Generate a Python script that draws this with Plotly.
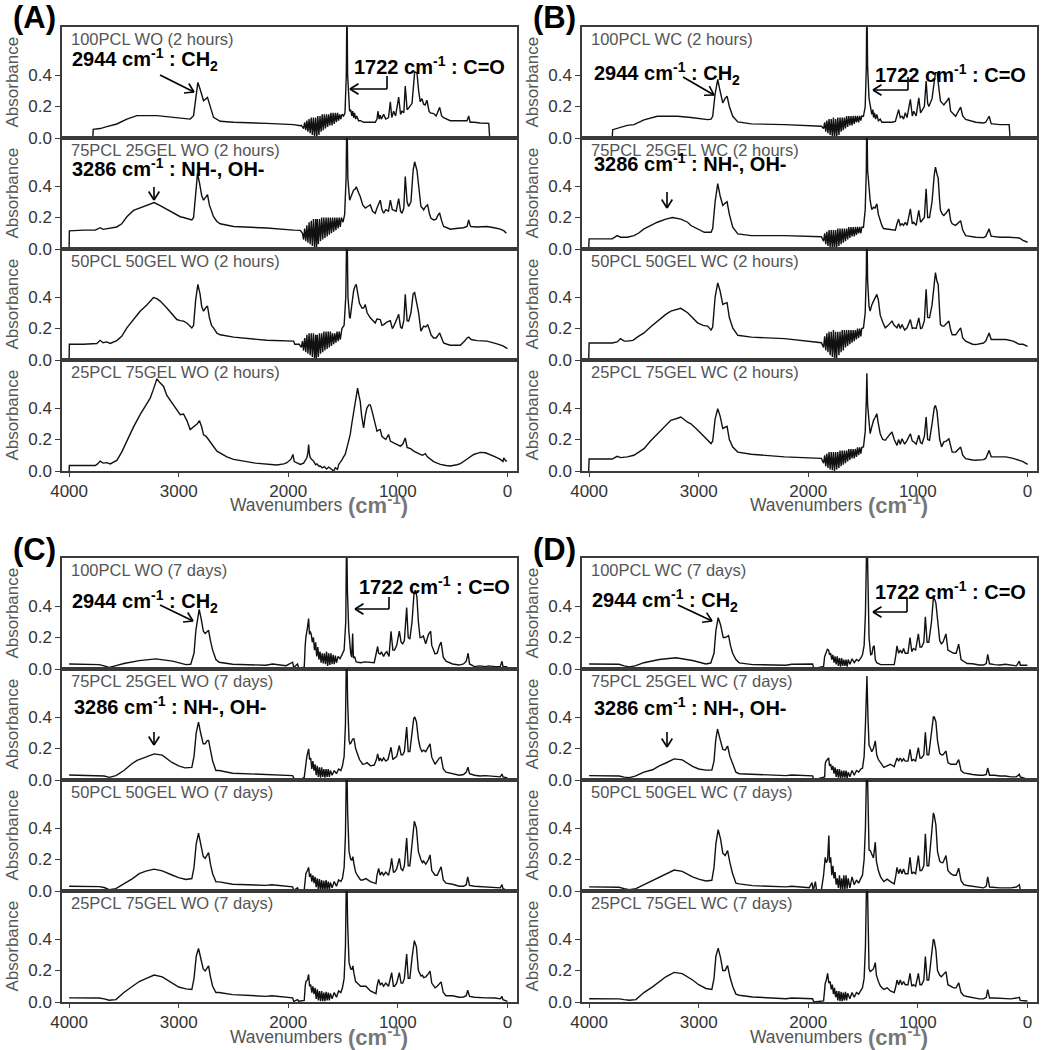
import math
import plotly.graph_objects as go

W, H = 1042, 1050

# ---------------- data: (wavenumber, absorbance) ----------------
A1 = [(4000,0),(3784,0),(3780,0.055),(3717,0.06),(3656,0.072),(3565,0.089),(3473,0.12),(3382,0.142),
      (3199,0.142),(3047,0.131),(2895,0.12),(2864,0.142),(2843,0.258),(2825,0.353),(2804,0.31),(2773,0.237),
      (2737,0.258),(2712,0.195),(2682,0.131),(2621,0.106),(2499,0.1),(2195,0.093),(1951,0.085),(1890,0.078),
      (1880,0.08),(1860,0.06),(1850,0.1),(1840,0.05),(1830,0.11),(1820,0.04),(1810,0.12),(1800,0.03),(1790,0.13),
      (1780,0.02),(1770,0.13),(1760,0.01),(1750,0.13),(1740,0.0),(1730,0.14),(1720,0.02),(1710,0.14),(1700,0.04),
      (1690,0.15),(1680,0.05),(1670,0.15),(1660,0.06),(1650,0.15),(1640,0.07),(1630,0.15),(1620,0.08),(1610,0.16),
      (1600,0.08),(1590,0.16),(1580,0.09),(1570,0.16),(1560,0.1),(1550,0.16),(1540,0.11),(1530,0.15),(1520,0.12),
      (1510,0.15),(1495,0.14),(1482,0.16),(1470,0.4),(1464,0.9),(1458,0.4),(1445,0.2),(1440,0.17),(1430,0.18),
      (1420,0.14),(1412,0.17),(1403,0.13),(1395,0.16),(1385,0.12),(1375,0.14),(1358,0.11),(1340,0.11),(1312,0.1),
      (1282,0.1),(1206,0.1),(1190,0.12),(1181,0.17),(1170,0.12),(1160,0.145),(1150,0.12),(1129,0.15),(1110,0.12),
      (1085,0.13),(1068,0.23),(1055,0.13),(1038,0.17),(1020,0.14),(992,0.26),(975,0.15),(962,0.17),(945,0.16),
      (932,0.33),(915,0.18),(901,0.19),(870,0.22),(846,0.42),(825,0.415),(810,0.3),(795,0.23),(780,0.25),
      (764,0.215),(750,0.21),(734,0.24),(715,0.17),(703,0.16),(673,0.155),(650,0.14),(618,0.195),(600,0.14),
      (582,0.13),(521,0.11),(429,0.11),(368,0.11),(353,0.14),(340,0.1),(300,0.1),(250,0.095),(170,0.093),
      (161,0.0),(100,0.0),(-3,0.0)]

A2 = [(4000,0),(3998,0.115),(3869,0.12),(3762,0.12),(3747,0.125),(3717,0.135),(3690,0.125),(3656,0.13),
      (3625,0.13),(3565,0.14),(3520,0.16),(3473,0.205),(3412,0.245),(3352,0.26),(3291,0.275),(3224,0.295),
      (3169,0.275),(3108,0.25),(3047,0.225),(2986,0.205),(2956,0.2),(2925,0.195),(2880,0.185),(2864,0.2),
      (2845,0.35),(2828,0.48),(2810,0.42),(2790,0.34),(2773,0.31),(2755,0.33),(2737,0.345),(2720,0.28),
      (2700,0.24),(2682,0.205),(2651,0.175),(2621,0.16),(2499,0.143),(2195,0.133),(1950,0.12),(1890,0.118),
      (1870,0.1),(1860,0.06),(1850,0.13),(1840,0.05),(1830,0.15),(1820,0.04),(1810,0.17),(1800,0.03),(1790,0.18),
      (1780,0.02),(1770,0.19),(1760,0.01),(1750,0.19),(1742,0.0),(1735,0.19),(1725,0.03),(1715,0.19),(1705,0.05),
      (1695,0.2),(1685,0.06),(1675,0.2),(1665,0.07),(1655,0.2),(1645,0.08),(1635,0.2),(1625,0.09),(1615,0.2),
      (1605,0.1),(1595,0.2),(1585,0.11),(1575,0.2),(1565,0.12),(1555,0.2),(1545,0.13),(1535,0.2),(1525,0.14),
      (1515,0.2),(1500,0.17),(1485,0.22),(1472,0.45),(1464,0.9),(1456,0.45),(1440,0.31),(1420,0.35),(1403,0.375),
      (1390,0.38),(1379,0.395),(1360,0.36),(1343,0.333),(1320,0.28),(1297,0.26),(1275,0.27),(1251,0.28),
      (1230,0.24),(1206,0.227),(1190,0.26),(1175,0.28),(1160,0.31),(1145,0.25),(1129,0.227),(1110,0.25),
      (1085,0.24),(1068,0.31),(1050,0.25),(1038,0.247),(1015,0.24),(992,0.32),(975,0.24),(962,0.227),(945,0.26),
      (932,0.46),(915,0.3),(901,0.27),(880,0.3),(860,0.5),(846,0.554),(825,0.5),(810,0.4),(795,0.3),(789,0.27),
      (775,0.26),(764,0.248),(745,0.27),(728,0.28),(710,0.22),(697,0.195),(673,0.185),(650,0.19),(630,0.22),
      (618,0.227),(600,0.18),(582,0.143),(550,0.135),(521,0.126),(470,0.13),(400,0.135),(368,0.143),(353,0.185),
      (340,0.15),(332,0.143),(280,0.14),(186,0.143),(120,0.135),(64,0.126),(30,0.115),(9,0.1)]

A3 = [(4000,0),(3998,0.1),(3869,0.1),(3747,0.105),(3717,0.125),(3690,0.11),(3656,0.115),(3625,0.105),
      (3565,0.123),(3520,0.15),(3473,0.204),(3412,0.26),(3352,0.31),(3291,0.35),(3230,0.396),(3199,0.39),
      (3169,0.374),(3108,0.33),(3047,0.28),(3017,0.257),(2986,0.25),(2956,0.247),(2925,0.235),(2880,0.204),
      (2864,0.22),(2845,0.38),(2825,0.48),(2805,0.42),(2790,0.34),(2773,0.31),(2755,0.33),(2737,0.343),
      (2720,0.27),(2700,0.22),(2682,0.204),(2651,0.17),(2621,0.16),(2499,0.145),(2195,0.125),(1951,0.12),
      (1940,0.1),(1900,0.1),(1880,0.08),(1870,0.12),(1860,0.06),(1850,0.14),(1840,0.05),(1830,0.16),(1820,0.04),
      (1810,0.17),(1800,0.03),(1790,0.17),(1780,0.02),(1770,0.17),(1760,0.01),(1750,0.16),(1744,0.0),(1735,0.16),
      (1725,0.02),(1715,0.17),(1705,0.04),(1695,0.17),(1685,0.05),(1675,0.18),(1665,0.06),(1655,0.18),(1645,0.07),
      (1635,0.18),(1625,0.08),(1615,0.18),(1605,0.09),(1595,0.17),(1585,0.1),(1575,0.17),(1565,0.11),(1555,0.18),
      (1545,0.12),(1535,0.18),(1525,0.13),(1510,0.2),(1490,0.22),(1475,0.4),(1464,0.9),(1455,0.4),(1440,0.27),
      (1434,0.268),(1418,0.36),(1403,0.44),(1390,0.47),(1379,0.48),(1367,0.43),(1350,0.36),(1327,0.33),
      (1312,0.33),(1297,0.353),(1280,0.3),(1251,0.268),(1230,0.25),(1206,0.235),(1190,0.26),(1160,0.257),
      (1145,0.22),(1129,0.225),(1100,0.24),(1084,0.247),(1068,0.25),(1050,0.2),(1038,0.213),(1015,0.25),
      (992,0.29),(975,0.21),(962,0.2),(945,0.25),(932,0.417),(915,0.25),(901,0.247),(880,0.3),(860,0.42),
      (846,0.428),(830,0.38),(810,0.3),(789,0.183),(775,0.2),(764,0.215),(745,0.21),(728,0.225),(710,0.19),
      (697,0.16),(673,0.14),(650,0.14),(630,0.16),(618,0.172),(600,0.14),(582,0.108),(550,0.1),(521,0.094),
      (460,0.094),(429,0.094),(390,0.12),(368,0.14),(353,0.145),(330,0.13),(277,0.123),(186,0.12),(94,0.102),
      (40,0.09),(-1,0.072)]

A4 = [(4000,0),(3998,0.035),(3869,0.035),(3762,0.035),(3740,0.045),(3717,0.063),(3690,0.05),(3656,0.053),
      (3625,0.045),(3565,0.067),(3520,0.12),(3473,0.19),(3412,0.28),(3352,0.358),(3300,0.42),(3260,0.463),
      (3230,0.52),(3199,0.585),(3170,0.56),(3138,0.537),(3108,0.48),(3047,0.42),(3000,0.37),(2986,0.358),
      (2956,0.362),(2925,0.32),(2895,0.263),(2864,0.28),(2830,0.3),(2810,0.32),(2790,0.28),(2773,0.23),
      (2750,0.22),(2728,0.2),(2700,0.17),(2651,0.126),(2560,0.09),(2499,0.074),(2300,0.05),(2195,0.042),
      (2104,0.038),(2040,0.045),(2012,0.053),(1975,0.075),(1957,0.105),(1945,0.06),(1900,0.045),(1890,0.042),
      (1860,0.05),(1830,0.084),(1820,0.12),(1814,0.168),(1805,0.1),(1799,0.084),(1780,0.07),(1769,0.063),
      (1750,0.04),(1738,0.045),(1720,0.03),(1708,0.032),(1690,0.02),(1670,0.028),(1650,0.012),(1630,0.025),
      (1616,0.017),(1600,0.005),(1586,0.0),(1570,0.02),(1550,0.01),(1540,0.04),(1525,0.053),(1510,0.07),
      (1495,0.09),(1480,0.105),(1460,0.16),(1434,0.232),(1420,0.3),(1403,0.379),(1385,0.47),(1367,0.526),
      (1355,0.48),(1343,0.442),(1330,0.35),(1312,0.274),(1297,0.35),(1282,0.4),(1265,0.42),(1251,0.42),
      (1235,0.38),(1221,0.337),(1205,0.29),(1190,0.253),(1175,0.26),(1160,0.263),(1145,0.22),(1129,0.21),
      (1110,0.2),(1084,0.232),(1068,0.19),(1038,0.179),(1010,0.17),(977,0.158),(955,0.17),(932,0.21),
      (915,0.15),(901,0.147),(880,0.14),(855,0.126),(830,0.115),(795,0.105),(775,0.1),(749,0.11),(730,0.09),
      (703,0.074),(673,0.06),(640,0.05),(612,0.042),(560,0.035),(521,0.032),(460,0.04),(429,0.047),(380,0.07),
      (340,0.09),(307,0.105),(277,0.112),(247,0.118),(200,0.116),(155,0.105),(110,0.09),(64,0.074),(40,0.06),
      (33,0.084),(15,0.065),(3,0.063)]

B1 = [(4004,0),(3789,0),(3785,0.053),(3744,0.06),(3700,0.07),(3652,0.08),(3591,0.085),(3499,0.115),
      (3377,0.138),(3254,0.138),(3193,0.138),(3071,0.13),(2948,0.12),(2918,0.117),(2887,0.12),(2872,0.138),
      (2850,0.28),(2826,0.372),(2805,0.3),(2780,0.223),(2760,0.25),(2741,0.266),(2720,0.2),(2689,0.138),
      (2643,0.102),(2520,0.09),(2215,0.085),(1970,0.081),(1880,0.075),
      (1860,0.06),(1850,0.1),(1840,0.04),(1830,0.11),(1820,0.03),(1810,0.12),(1800,0.02),(1790,0.12),(1780,0.01),
      (1770,0.13),(1760,0.0),(1750,0.12),(1740,0.01),(1730,0.13),(1720,0.02),(1710,0.13),(1700,0.04),(1690,0.13),
      (1680,0.05),(1670,0.13),(1660,0.06),(1650,0.14),(1640,0.07),(1630,0.14),(1620,0.08),(1610,0.14),(1600,0.08),
      (1590,0.14),(1580,0.09),(1570,0.14),(1560,0.1),(1550,0.14),(1540,0.1),(1530,0.14),(1520,0.11),(1511,0.14),
      (1496,0.138),(1480,0.2),(1470,0.45),(1465,0.9),(1458,0.45),(1445,0.25),(1435,0.21),(1420,0.15),(1410,0.18),
      (1404,0.13),(1395,0.16),(1385,0.12),(1374,0.15),(1360,0.11),(1343,0.12),(1328,0.1),(1313,0.1),(1236,0.1),
      (1205,0.105),(1190,0.14),(1175,0.18),(1160,0.13),(1144,0.138),(1130,0.12),(1114,0.16),(1098,0.13),
      (1068,0.245),(1050,0.14),(1037,0.17),(1015,0.14),(991,0.255),(975,0.16),(961,0.18),(940,0.2),(924,0.362),
      (910,0.22),(899,0.2),(870,0.25),(839,0.415),(823,0.415),(805,0.3),(793,0.234),(775,0.22),(762,0.21),
      (740,0.23),(716,0.255),(700,0.17),(686,0.16),(655,0.138),(630,0.17),(609,0.196),(590,0.14),(563,0.118),
      (471,0.1),(400,0.095),(380,0.1),(349,0.138),(330,0.09),(319,0.09),(250,0.085),(166,0.085),(158,0.0),
      (100,0.0),(-2,0.0)]

B2 = [(4004,0),(4000,0.064),(3789,0.064),(3744,0.085),(3713,0.075),(3652,0.075),(3591,0.085),(3550,0.1),
      (3499,0.128),(3440,0.15),(3377,0.17),(3300,0.19),(3239,0.2),(3163,0.19),(3101,0.17),(3071,0.149),
      (3010,0.125),(2948,0.106),(2887,0.106),(2872,0.13),(2850,0.3),(2826,0.415),(2805,0.34),(2780,0.277),
      (2760,0.29),(2741,0.3),(2720,0.22),(2689,0.138),(2643,0.096),(2520,0.085),(2215,0.085),(1970,0.08),
      (1880,0.078),
      (1860,0.05),(1850,0.1),(1840,0.03),(1830,0.11),(1820,0.02),(1810,0.12),(1800,0.01),(1790,0.12),(1780,0.005),
      (1770,0.12),(1760,0.0),(1750,0.12),(1740,0.01),(1730,0.13),(1720,0.02),(1710,0.13),(1700,0.03),(1690,0.13),
      (1680,0.04),(1670,0.13),(1660,0.05),(1650,0.13),(1640,0.06),(1630,0.14),(1620,0.07),(1610,0.14),(1600,0.08),
      (1590,0.14),(1580,0.08),(1570,0.14),(1560,0.09),(1550,0.14),(1540,0.1),(1530,0.14),(1520,0.1),(1511,0.138),
      (1496,0.138),(1480,0.25),(1470,0.5),(1465,0.9),(1458,0.5),(1445,0.35),(1435,0.31),(1420,0.25),(1404,0.266),
      (1390,0.26),(1374,0.287),(1360,0.22),(1343,0.18),(1328,0.15),(1313,0.13),(1297,0.128),(1236,0.12),
      (1205,0.12),(1190,0.16),(1175,0.19),(1160,0.15),(1144,0.16),(1130,0.15),(1114,0.17),(1098,0.15),
      (1068,0.255),(1050,0.16),(1037,0.17),(1015,0.15),(991,0.245),(975,0.17),(961,0.18),(940,0.2),(924,0.383),
      (910,0.2),(893,0.2),(870,0.3),(850,0.47),(839,0.52),(823,0.47),(814,0.45),(800,0.3),(793,0.245),
      (775,0.22),(762,0.213),(740,0.23),(716,0.255),(700,0.18),(686,0.16),(655,0.15),(630,0.17),(609,0.18),
      (590,0.12),(563,0.085),(471,0.075),(400,0.072),(380,0.08),(349,0.128),(330,0.08),(319,0.08),(250,0.075),
      (166,0.075),(74,0.07),(40,0.055),(-2,0.043)]

B3 = [(4004,0),(4000,0.108),(3789,0.108),(3744,0.115),(3713,0.136),(3680,0.12),(3652,0.12),(3600,0.125),
      (3550,0.15),(3499,0.172),(3440,0.21),(3377,0.247),(3300,0.29),(3254,0.31),(3193,0.325),(3163,0.328),
      (3101,0.3),(3010,0.236),(2960,0.22),(2918,0.215),(2887,0.19),(2872,0.21),(2850,0.4),(2826,0.49),
      (2805,0.44),(2780,0.353),(2760,0.36),(2741,0.364),(2720,0.27),(2689,0.204),(2643,0.157),(2520,0.145),
      (2215,0.136),(1970,0.115),(1880,0.11),
      (1860,0.08),(1850,0.15),(1840,0.06),(1830,0.17),(1820,0.05),(1810,0.18),(1800,0.03),(1790,0.18),(1780,0.02),
      (1770,0.19),(1760,0.005),(1750,0.18),(1742,0.0),(1730,0.18),(1720,0.03),(1710,0.18),(1700,0.05),(1690,0.19),
      (1680,0.06),(1670,0.19),(1660,0.08),(1650,0.19),(1640,0.09),(1630,0.19),(1620,0.1),(1610,0.19),(1600,0.11),
      (1590,0.19),(1580,0.12),(1570,0.19),(1560,0.13),(1550,0.2),(1540,0.14),(1530,0.2),(1520,0.15),(1511,0.2),
      (1496,0.204),(1480,0.3),(1470,0.55),(1465,0.9),(1458,0.5),(1445,0.34),(1435,0.31),(1420,0.35),(1404,0.374),
      (1390,0.4),(1374,0.417),(1360,0.38),(1343,0.285),(1320,0.24),(1297,0.204),(1270,0.22),(1236,0.247),
      (1215,0.22),(1190,0.204),(1175,0.23),(1160,0.2),(1144,0.225),(1120,0.19),(1098,0.204),(1068,0.257),
      (1050,0.2),(1037,0.204),(1015,0.2),(991,0.268),(975,0.2),(961,0.204),(940,0.25),(924,0.449),(910,0.27),
      (893,0.268),(870,0.35),(850,0.5),(839,0.555),(825,0.5),(814,0.48),(800,0.3),(793,0.225),(775,0.215),
      (762,0.215),(740,0.23),(716,0.247),(700,0.19),(686,0.16),(655,0.16),(630,0.18),(609,0.204),(590,0.14),
      (563,0.12),(500,0.1),(471,0.098),(400,0.108),(380,0.12),(349,0.172),(330,0.13),(319,0.13),(250,0.13),
      (196,0.13),(130,0.12),(74,0.1),(40,0.1),(-2,0.087)]

B4 = [(4004,0),(4000,0.076),(3789,0.076),(3744,0.093),(3713,0.085),(3652,0.09),(3591,0.1),(3550,0.12),
      (3499,0.142),(3440,0.19),(3377,0.237),(3300,0.29),(3254,0.322),(3193,0.335),(3163,0.343),(3101,0.31),
      (3071,0.3),(3010,0.26),(2948,0.216),(2918,0.2),(2887,0.174),(2872,0.19),(2850,0.33),(2826,0.396),
      (2805,0.35),(2780,0.27),(2760,0.28),(2741,0.284),(2720,0.2),(2689,0.152),(2643,0.12),(2520,0.106),
      (2215,0.09),(1970,0.08),(1880,0.08),
      (1860,0.05),(1850,0.1),(1840,0.03),(1830,0.11),(1820,0.02),(1810,0.12),(1800,0.01),(1790,0.12),(1780,0.005),
      (1770,0.12),(1760,0.0),(1750,0.12),(1740,0.01),(1730,0.12),(1720,0.02),(1710,0.13),(1700,0.03),(1690,0.13),
      (1680,0.04),(1670,0.13),(1660,0.05),(1650,0.13),(1640,0.06),(1630,0.14),(1620,0.07),(1610,0.14),(1600,0.08),
      (1590,0.14),(1580,0.08),(1570,0.14),(1560,0.09),(1550,0.15),(1540,0.1),(1530,0.15),(1520,0.11),(1511,0.15),
      (1496,0.153),(1480,0.25),(1470,0.45),(1465,0.62),(1458,0.42),(1445,0.28),(1435,0.237),(1420,0.28),
      (1404,0.322),(1390,0.34),(1374,0.364),(1360,0.3),(1343,0.237),(1320,0.2),(1297,0.195),(1270,0.22),
      (1236,0.248),(1215,0.2),(1190,0.163),(1175,0.2),(1160,0.17),(1144,0.205),(1120,0.17),(1098,0.195),
      (1068,0.237),(1050,0.19),(1037,0.185),(1015,0.17),(991,0.227),(975,0.18),(961,0.174),(940,0.22),
      (924,0.343),(910,0.2),(893,0.195),(870,0.3),(850,0.4),(839,0.417),(825,0.38),(814,0.3),(800,0.2),
      (783,0.153),(770,0.17),(762,0.185),(740,0.19),(716,0.205),(700,0.16),(686,0.12),(655,0.12),(630,0.14),
      (609,0.152),(590,0.1),(563,0.078),(500,0.07),(471,0.068),(400,0.072),(380,0.08),(349,0.131),(330,0.09),
      (319,0.09),(250,0.09),(196,0.09),(130,0.08),(74,0.068),(40,0.06),(-2,0.042)]

C1 = [(4000,0.032),(3726,0.028),(3680,0.02),(3634,0.01),(3580,0.02),(3500,0.035),(3360,0.053),(3208,0.064),
      (3056,0.05),(2934,0.028),(2890,0.03),(2860,0.1),(2843,0.246),(2813,0.379),(2795,0.32),(2775,0.24),
      (2758,0.225),(2740,0.24),(2727,0.246),(2710,0.18),(2690,0.12),(2660,0.06),(2630,0.043),(2508,0.03),
      (2204,0.024),(2143,0.032),(2020,0.021),(1960,0.043),(1950,0.01),(1915,0.032),(1905,0.007),(1870,0.01),
      (1854,0.01),(1845,0.15),(1839,0.203),(1825,0.26),(1814,0.32),(1806,0.22),(1800,0.24),(1790,0.22),
      (1780,0.17),(1770,0.2),(1760,0.12),(1750,0.17),(1740,0.08),(1730,0.14),(1720,0.06),(1710,0.11),(1700,0.04),
      (1690,0.1),(1680,0.035),(1670,0.1),(1660,0.03),(1650,0.11),(1640,0.02),(1630,0.1),(1620,0.025),(1610,0.1),
      (1600,0.03),(1590,0.09),(1580,0.03),(1570,0.085),(1560,0.04),(1545,0.08),(1528,0.065),(1510,0.09),
      (1490,0.12),(1475,0.3),(1467,0.9),(1460,0.5),(1448,0.25),(1430,0.1),(1421,0.075),(1412,0.225),(1405,0.07),
      (1395,0.08),(1380,0.045),(1340,0.04),(1300,0.045),(1215,0.04),(1195,0.1),(1184,0.143),(1175,0.1),
      (1160,0.095),(1150,0.11),(1130,0.08),(1115,0.1),(1100,0.11),(1080,0.08),(1062,0.24),(1045,0.12),
      (1030,0.12),(1010,0.15),(986,0.24),(970,0.17),(955,0.16),(940,0.18),(919,0.39),(905,0.2),(890,0.19),
      (870,0.3),(852,0.48),(840,0.5),(826,0.46),(812,0.3),(797,0.2),(785,0.2),(767,0.21),(745,0.16),(720,0.22),
      (700,0.24),(690,0.15),(660,0.096),(640,0.1),(620,0.15),(605,0.171),(585,0.075),(560,0.05),(500,0.032),
      (440,0.025),(400,0.032),(375,0.05),(358,0.1),(345,0.032),(300,0.015),(250,0.02),(200,0.015),(170,0.02),
      (110,0.015),(65,0.015),(49,0.049),(40,0.015),(0,0.015)]

C2 = [(4000,0.032),(3726,0.03),(3680,0.025),(3634,0.017),(3573,0.028),(3500,0.06),(3430,0.102),(3380,0.125),
      (3309,0.145),(3224,0.166),(3150,0.158),(3065,0.113),(3000,0.09),(2943,0.077),(2880,0.08),(2860,0.15),
      (2840,0.3),(2819,0.368),(2800,0.3),(2776,0.23),(2758,0.23),(2740,0.25),(2727,0.251),(2710,0.18),
      (2690,0.12),(2660,0.06),(2630,0.06),(2508,0.043),(2204,0.034),(1960,0.028),(1945,0.006),(1870,0.01),
      (1854,0.017),(1840,0.1),(1830,0.15),(1814,0.198),(1805,0.13),(1795,0.14),(1785,0.07),(1775,0.12),
      (1765,0.06),(1755,0.1),(1745,0.03),(1735,0.09),(1725,0.02),(1715,0.08),(1705,0.015),(1695,0.08),
      (1685,0.02),(1675,0.07),(1665,0.015),(1655,0.07),(1645,0.02),(1635,0.07),(1625,0.02),(1615,0.06),
      (1600,0.03),(1580,0.06),(1560,0.04),(1540,0.07),(1520,0.06),(1505,0.09),(1490,0.15),(1478,0.35),
      (1467,0.9),(1458,0.5),(1445,0.25),(1437,0.23),(1428,0.235),(1412,0.26),(1400,0.262),(1385,0.2),
      (1370,0.17),(1350,0.13),(1320,0.1),(1300,0.102),(1280,0.11),(1250,0.09),(1215,0.095),(1195,0.13),
      (1184,0.166),(1170,0.12),(1160,0.14),(1145,0.12),(1130,0.14),(1110,0.12),(1090,0.13),(1062,0.208),
      (1045,0.13),(1030,0.14),(1010,0.15),(986,0.219),(970,0.16),(955,0.16),(940,0.18),(919,0.336),(905,0.18),
      (890,0.18),(870,0.3),(855,0.39),(845,0.4),(830,0.37),(812,0.26),(797,0.208),(780,0.18),(765,0.19),
      (745,0.18),(720,0.21),(706,0.23),(690,0.145),(660,0.1),(640,0.12),(620,0.14),(605,0.145),(585,0.07),
      (560,0.05),(500,0.04),(440,0.03),(400,0.035),(375,0.05),(360,0.081),(345,0.04),(300,0.03),(250,0.025),
      (200,0.028),(110,0.02),(65,0.02),(49,0.038),(40,0.02),(0,0.013)]

C3 = [(4000,0.03),(3726,0.028),(3680,0.022),(3634,0.009),(3573,0.015),(3500,0.045),(3421,0.079),(3360,0.11),
      (3300,0.126),(3224,0.139),(3150,0.128),(3056,0.1),(3000,0.085),(2934,0.073),(2880,0.079),(2860,0.15),
      (2840,0.3),(2819,0.368),(2800,0.3),(2776,0.22),(2758,0.207),(2740,0.235),(2727,0.244),(2710,0.17),
      (2690,0.11),(2660,0.058),(2630,0.058),(2508,0.043),(2204,0.036),(2150,0.04),(1960,0.026),(1950,0.004),
      (1915,0.02),(1905,0.005),(1870,0.004),(1854,0.009),(1845,0.08),(1839,0.11),(1825,0.13),(1814,0.15),
      (1805,0.09),(1795,0.11),(1785,0.06),(1775,0.1),(1765,0.05),(1755,0.09),(1745,0.025),(1735,0.08),
      (1725,0.01),(1715,0.075),(1705,0.005),(1695,0.07),(1685,0.005),(1675,0.065),(1665,0.005),(1655,0.07),
      (1645,0.01),(1635,0.06),(1625,0.01),(1615,0.055),(1600,0.02),(1580,0.06),(1560,0.03),(1540,0.07),
      (1520,0.06),(1505,0.08),(1490,0.15),(1478,0.35),(1467,0.9),(1458,0.5),(1445,0.25),(1430,0.2),
      (1419,0.197),(1410,0.218),(1400,0.17),(1385,0.12),(1370,0.1),(1340,0.07),(1320,0.07),(1291,0.079),
      (1250,0.06),(1215,0.05),(1199,0.047),(1190,0.1),(1175,0.143),(1160,0.1),(1145,0.12),(1130,0.1),
      (1110,0.12),(1085,0.1),(1068,0.15),(1056,0.207),(1040,0.12),(1030,0.12),(1010,0.14),(986,0.207),
      (970,0.14),(955,0.13),(940,0.16),(919,0.336),(905,0.16),(890,0.16),(870,0.3),(855,0.42),(849,0.443),
      (830,0.4),(812,0.25),(788,0.197),(775,0.18),(765,0.19),(745,0.17),(720,0.2),(706,0.229),(690,0.13),
      (660,0.1),(640,0.1),(620,0.135),(605,0.154),(585,0.07),(560,0.05),(500,0.043),(440,0.03),(400,0.03),
      (375,0.04),(362,0.09),(345,0.036),(300,0.03),(250,0.027),(200,0.025),(110,0.022),(65,0.02),(49,0.04),
      (40,0.015),(0,0.004)]

C4 = [(4000,0.026),(3726,0.025),(3680,0.02),(3634,0.011),(3573,0.015),(3500,0.06),(3421,0.1),(3360,0.13),
      (3300,0.148),(3224,0.171),(3150,0.16),(3056,0.12),(3000,0.095),(2934,0.083),(2880,0.079),(2860,0.15),
      (2840,0.29),(2819,0.34),(2800,0.28),(2776,0.21),(2758,0.197),(2740,0.22),(2727,0.229),(2710,0.16),
      (2690,0.1),(2660,0.06),(2630,0.06),(2508,0.047),(2204,0.036),(2150,0.04),(1960,0.026),(1950,0.004),
      (1915,0.015),(1905,0.005),(1870,0.007),(1854,0.01),(1845,0.1),(1839,0.13),(1825,0.14),(1814,0.175),
      (1805,0.1),(1795,0.11),(1785,0.06),(1775,0.1),(1765,0.05),(1755,0.09),(1745,0.02),(1735,0.08),
      (1725,0.01),(1715,0.07),(1705,0.005),(1695,0.07),(1685,0.005),(1675,0.06),(1665,0.005),(1655,0.065),
      (1645,0.01),(1635,0.06),(1625,0.01),(1615,0.055),(1600,0.02),(1580,0.06),(1560,0.03),(1540,0.07),
      (1520,0.06),(1505,0.09),(1490,0.15),(1478,0.35),(1467,0.9),(1458,0.5),(1445,0.25),(1430,0.21),
      (1419,0.207),(1410,0.229),(1400,0.18),(1385,0.13),(1370,0.12),(1340,0.1),(1320,0.1),(1291,0.1),
      (1250,0.07),(1215,0.06),(1199,0.053),(1190,0.1),(1175,0.143),(1160,0.11),(1145,0.12),(1130,0.1),
      (1110,0.12),(1085,0.1),(1068,0.15),(1056,0.186),(1040,0.1),(1030,0.1),(1010,0.12),(986,0.186),
      (970,0.12),(955,0.12),(940,0.15),(919,0.304),(905,0.15),(890,0.15),(870,0.28),(855,0.38),(849,0.39),
      (830,0.35),(812,0.2),(788,0.165),(775,0.17),(765,0.155),(745,0.16),(720,0.18),(706,0.197),(690,0.12),
      (660,0.09),(640,0.1),(620,0.12),(605,0.128),(585,0.06),(560,0.04),(500,0.04),(440,0.03),(400,0.032),
      (375,0.04),(362,0.075),(345,0.036),(300,0.03),(250,0.027),(200,0.026),(110,0.025),(65,0.02),(49,0.035),
      (40,0.015),(0,0.004)]

D1 = [(4000,0.032),(3726,0.03),(3680,0.02),(3634,0.013),(3580,0.02),(3500,0.04),(3360,0.06),(3208,0.071),
      (3056,0.054),(2934,0.032),(2890,0.038),(2860,0.1),(2843,0.244),(2822,0.326),(2800,0.28),(2776,0.2),
      (2758,0.2),(2740,0.21),(2727,0.212),(2710,0.15),(2690,0.1),(2660,0.06),(2630,0.039),(2508,0.028),
      (2204,0.024),(2150,0.03),(1960,0.032),(1950,0.002),(1870,0.015),(1860,0.017),(1850,0.08),(1839,0.104),
      (1825,0.125),(1814,0.12),(1805,0.09),(1795,0.1),(1785,0.06),(1775,0.09),(1765,0.04),(1755,0.08),
      (1745,0.03),(1735,0.08),(1725,0.02),(1715,0.07),(1705,0.015),(1695,0.07),(1685,0.02),(1675,0.06),
      (1665,0.02),(1655,0.06),(1645,0.015),(1635,0.06),(1620,0.03),(1600,0.065),(1580,0.04),(1560,0.06),
      (1540,0.05),(1520,0.07),(1505,0.09),(1490,0.15),(1478,0.35),(1464,0.9),(1455,0.45),(1445,0.2),
      (1430,0.09),(1419,0.093),(1408,0.14),(1398,0.147),(1388,0.06),(1375,0.04),(1340,0.028),(1300,0.028),
      (1215,0.028),(1200,0.09),(1190,0.147),(1175,0.1),(1160,0.12),(1145,0.1),(1130,0.13),(1115,0.1),
      (1090,0.1),(1071,0.2),(1055,0.11),(1040,0.13),(1020,0.12),(995,0.223),(980,0.14),(965,0.14),(945,0.17),
      (931,0.331),(915,0.17),(900,0.17),(875,0.3),(858,0.45),(850,0.45),(835,0.42),(820,0.3),(800,0.18),
      (785,0.16),(770,0.17),(743,0.223),(725,0.12),(700,0.11),(673,0.1),(650,0.1),(627,0.158),(605,0.06),
      (580,0.05),(550,0.035),(500,0.033),(440,0.025),(400,0.025),(375,0.035),(362,0.093),(345,0.033),
      (300,0.028),(250,0.025),(200,0.03),(150,0.025),(100,0.02),(73,0.05),(65,0.024),(0,0.024)]

D2 = [(4000,0.028),(3726,0.025),(3680,0.018),(3634,0.015),(3580,0.025),(3500,0.05),(3421,0.065),(3360,0.09),
      (3300,0.108),(3224,0.134),(3150,0.128),(3056,0.086),(3000,0.07),(2934,0.063),(2880,0.063),(2860,0.12),
      (2845,0.25),(2828,0.324),(2805,0.26),(2780,0.195),(2758,0.19),(2745,0.21),(2736,0.216),(2715,0.15),
      (2690,0.1),(2660,0.05),(2630,0.04),(2508,0.037),(2204,0.028),(2150,0.032),(1960,0.026),(1950,0.0),
      (1870,0.015),(1850,0.02),(1845,0.1),(1839,0.119),(1825,0.13),(1814,0.14),(1805,0.09),(1795,0.1),
      (1785,0.065),(1775,0.09),(1765,0.04),(1755,0.08),(1745,0.02),(1735,0.07),(1725,0.015),(1715,0.07),
      (1705,0.01),(1695,0.06),(1685,0.015),(1675,0.06),(1665,0.015),(1655,0.06),(1645,0.01),(1635,0.05),
      (1620,0.02),(1600,0.06),(1580,0.03),(1560,0.06),(1540,0.05),(1520,0.07),(1505,0.075),(1490,0.15),
      (1478,0.35),(1464,0.66),(1455,0.4),(1445,0.22),(1434,0.205),(1420,0.18),(1405,0.2),(1388,0.249),
      (1375,0.16),(1360,0.13),(1340,0.11),(1310,0.08),(1280,0.09),(1250,0.1),(1215,0.085),(1200,0.12),
      (1190,0.14),(1175,0.12),(1160,0.14),(1145,0.12),(1130,0.135),(1115,0.12),(1090,0.12),(1071,0.195),
      (1055,0.12),(1040,0.13),(1020,0.12),(995,0.205),(980,0.14),(965,0.14),(945,0.16),(931,0.303),(915,0.16),
      (900,0.16),(875,0.3),(858,0.4),(850,0.4),(835,0.37),(820,0.25),(800,0.17),(785,0.16),(770,0.16),
      (743,0.184),(725,0.11),(700,0.1),(673,0.1),(650,0.1),(627,0.13),(605,0.06),(580,0.045),(550,0.04),
      (500,0.035),(440,0.03),(400,0.03),(375,0.035),(362,0.076),(345,0.03),(300,0.03),(250,0.025),(200,0.025),
      (150,0.02),(100,0.02),(73,0.037),(65,0.02),(0,0.006)]

D3 = [(4000,0.026),(3726,0.024),(3680,0.015),(3634,0.009),(3573,0.015),(3500,0.04),(3421,0.068),(3360,0.09),
      (3300,0.111),(3224,0.133),(3150,0.125),(3056,0.09),(3000,0.075),(2934,0.064),(2880,0.068),(2860,0.15),
      (2843,0.3),(2822,0.39),(2800,0.33),(2780,0.24),(2758,0.225),(2745,0.245),(2736,0.257),(2715,0.18),
      (2690,0.11),(2660,0.05),(2630,0.045),(2508,0.034),(2204,0.026),(2150,0.03),(1990,0.021),(1965,0.054),
      (1955,0.0),(1935,0.06),(1925,0.01),(1900,0.004),(1880,0.005),(1860,0.1),(1845,0.214),(1835,0.18),
      (1823,0.2),(1812,0.353),(1805,0.18),(1795,0.214),(1785,0.1),(1775,0.16),(1765,0.08),(1755,0.12),
      (1745,0.04),(1735,0.08),(1725,0.02),(1715,0.1),(1705,0.01),(1695,0.08),(1685,0.01),(1675,0.1),
      (1665,0.01),(1655,0.1),(1645,0.015),(1635,0.08),(1620,0.02),(1600,0.09),(1580,0.04),(1560,0.07),
      (1540,0.05),(1520,0.08),(1505,0.1),(1490,0.2),(1478,0.4),(1464,0.9),(1455,0.45),(1445,0.26),
      (1434,0.257),(1420,0.23),(1405,0.21),(1388,0.31),(1378,0.19),(1360,0.13),(1340,0.09),(1310,0.06),
      (1280,0.075),(1250,0.06),(1215,0.045),(1200,0.1),(1190,0.15),(1175,0.11),(1160,0.14),(1145,0.11),
      (1130,0.14),(1115,0.11),(1090,0.11),(1071,0.214),(1055,0.11),(1040,0.12),(1020,0.11),(995,0.225),
      (980,0.13),(965,0.13),(945,0.16),(931,0.364),(915,0.16),(900,0.16),(875,0.35),(858,0.496),(850,0.48),
      (835,0.42),(820,0.25),(800,0.19),(785,0.18),(770,0.18),(743,0.225),(725,0.13),(700,0.11),(673,0.1),
      (650,0.1),(627,0.145),(605,0.065),(580,0.04),(550,0.035),(500,0.03),(440,0.02),(400,0.02),(375,0.03),
      (362,0.09),(345,0.025),(300,0.022),(250,0.02),(200,0.02),(150,0.02),(100,0.025),(73,0.04),(65,0.01),
      (0,0.004)]

D4 = [(4000,0.021),(3726,0.02),(3680,0.015),(3634,0.011),(3573,0.015),(3500,0.06),(3421,0.096),(3360,0.13),
      (3300,0.16),(3224,0.188),(3150,0.18),(3056,0.14),(3000,0.11),(2934,0.086),(2880,0.08),(2860,0.15),
      (2843,0.29),(2822,0.342),(2800,0.28),(2780,0.2),(2758,0.2),(2745,0.22),(2736,0.231),(2715,0.16),
      (2690,0.1),(2660,0.05),(2630,0.043),(2508,0.032),(2204,0.021),(2150,0.025),(1960,0.021),(1950,0.0),
      (1900,0.005),(1860,0.007),(1850,0.08),(1845,0.118),(1835,0.14),(1823,0.182),(1812,0.12),(1800,0.13),
      (1790,0.08),(1780,0.11),(1770,0.05),(1760,0.09),(1750,0.03),(1740,0.07),(1730,0.01),(1720,0.07),
      (1710,0.005),(1700,0.065),(1690,0.005),(1680,0.06),(1670,0.01),(1660,0.065),(1650,0.01),(1640,0.055),
      (1620,0.02),(1600,0.06),(1580,0.03),(1560,0.06),(1540,0.05),(1520,0.075),(1505,0.09),(1490,0.15),
      (1478,0.35),(1464,0.9),(1455,0.45),(1445,0.21),(1434,0.193),(1420,0.2),(1405,0.21),(1388,0.25),
      (1378,0.17),(1360,0.13),(1340,0.1),(1310,0.08),(1280,0.09),(1250,0.07),(1215,0.06),(1200,0.1),
      (1190,0.139),(1175,0.11),(1160,0.14),(1145,0.11),(1130,0.13),(1115,0.11),(1090,0.11),(1071,0.182),
      (1055,0.1),(1040,0.11),(1020,0.1),(995,0.182),(980,0.11),(965,0.11),(945,0.14),(931,0.289),(915,0.14),
      (900,0.14),(875,0.3),(858,0.4),(850,0.39),(835,0.33),(820,0.2),(800,0.17),(785,0.16),(770,0.17),
      (743,0.193),(725,0.11),(700,0.1),(673,0.09),(650,0.09),(627,0.122),(605,0.06),(580,0.04),(550,0.035),
      (500,0.028),(440,0.02),(400,0.02),(375,0.03),(362,0.079),(345,0.025),(300,0.025),(250,0.022),
      (200,0.022),(150,0.02),(100,0.025),(73,0.03),(65,0.01),(0,0.006)]

panel_names = ["A", "B", "C", "D"]
spectra = {"A": [A1, A2, A3, A4], "B": [B1, B2, B3, B4], "C": [C1, C2, C3, C4], "D": [D1, D2, D3, D4]}
row_titles = {
    "A": ["100PCL WO (2 hours)", "75PCL 25GEL WO (2 hours)", "50PCL 50GEL WO (2 hours)", "25PCL 75GEL WO (2 hours)"],
    "B": ["100PCL WC (2 hours)", "75PCL 25GEL WC (2 hours)", "50PCL 50GEL WC (2 hours)", "25PCL 75GEL WC (2 hours)"],
    "C": ["100PCL WO (7 days)", "75PCL 25GEL WO (7 days)", "50PCL 50GEL WO (7 days)", "25PCL 75GEL WO (7 days)"],
    "D": ["100PCL WC (7 days)", "75PCL 25GEL WC (7 days)", "50PCL 50GEL WC (7 days)", "25PCL 75GEL WC (7 days)"],
}
x_ticks = [0, 1000, 2000, 3000, 4000]
y_ticks = [0.0, 0.2, 0.4]
y_ticktext = ["0.0", "0.2", "0.4"]

# ---------------- layout geometry (pixels, in the reference picture's frame) ----------------
PX = {"A": (62, 517), "B": (582, 1037), "C": (62, 517), "D": (582, 1037)}
ROWS = {"A": [27, 138, 249, 360, 471], "B": [27, 138, 249, 360, 471],
        "C": [558, 669, 780, 891, 1002], "D": [558, 669, 780, 891, 1002]}
XR = [4065, -88]
YR = [0, 0.705]

FONT = "Liberation Sans, Arial, sans-serif"
AXC = "#3a3a3a"


def fx(px):
    return px / W


def fy(py):
    return 1 - py / H


fig = go.Figure()
layout = dict(width=W, height=H, margin=dict(l=0, r=0, t=0, b=0, pad=0), template="none",
              paper_bgcolor="white", plot_bgcolor="white", showlegend=False,
              font=dict(family=FONT, color="#333"))
annotations = []
shapes = []

for pi, pn in enumerate(panel_names):
    x0, x1 = PX[pn]
    rows = ROWS[pn]
    for r in range(4):
        idx = pi * 4 + r + 1
        sfx = "" if idx == 1 else str(idx)
        data = spectra[pn][r]
        fig.add_trace(go.Scatter(x=[p[0] for p in data], y=[p[1] for p in data], mode="lines",
                                 line=dict(color="#111", width=1.4), xaxis="x" + sfx, yaxis="y" + sfx,
                                 hoverinfo="skip"))
        bottom = (r == 3)
        layout["xaxis" + sfx] = dict(
            domain=[fx(x0), fx(x1)], range=XR, anchor="y" + sfx, showgrid=False, zeroline=False,
            showline=True, mirror=True, linecolor=AXC, linewidth=1.5, automargin=False,
            ticks="outside" if bottom else "", ticklen=4, tickwidth=1.2, tickcolor=AXC,
            tickvals=x_ticks, showticklabels=bottom, tickfont=dict(size=17, color="#333", family=FONT))
        layout["yaxis" + sfx] = dict(
            domain=[fy(rows[r + 1]), fy(rows[r])], range=YR, anchor="x" + sfx, showgrid=False,
            zeroline=False, showline=True, mirror=True, linecolor=AXC, linewidth=1.5, automargin=False,
            ticks="outside", ticklen=5, tickwidth=1.2, tickcolor=AXC, tickvals=y_ticks, ticktext=y_ticktext,
            tickfont=dict(size=17, color="#333", family=FONT))
        # sample title inside the sub-plot
        annotations.append(dict(xref="paper", yref="paper", x=fx(x0 + 7), y=fy(rows[r] + 1),
                                xanchor="left", yanchor="top", showarrow=False, text=row_titles[pn][r],
                                font=dict(size=16.5, color="#555", family=FONT)))
        # y axis title
        annotations.append(dict(xref="paper", yref="paper", x=fx(x0 - 50), y=fy((rows[r] + rows[r + 1]) / 2),
                                xanchor="center", yanchor="middle", showarrow=False, text="Absorbance",
                                textangle=-90, font=dict(size=17, color="#555", family=FONT)))
    # x axis title
    ty = 505 if pn in ("A", "B") else 1037
    xmid = x0 + 282
    annotations.append(dict(xref="paper", yref="paper", x=fx(xmid), y=fy(ty), xanchor="right",
                            yanchor="middle", showarrow=False, text="Wavenumbers",
                            font=dict(size=17.5, color="#555", family=FONT)))
    annotations.append(dict(xref="paper", yref="paper", x=fx(xmid + 2), y=fy(ty - 1), xanchor="left",
                            yanchor="middle", showarrow=False, text="<b>(cm<sup>-1</sup>)</b>",
                            font=dict(size=22, color="#777", family=FONT)))

# panel letters
for pn, (px, py) in {"A": (34, 17), "B": (554, 17), "C": (34, 549), "D": (554, 549)}.items():
    annotations.append(dict(xref="paper", yref="paper", x=fx(px), y=fy(py), xanchor="center",
                            yanchor="middle", showarrow=False, text="<b>(%s)</b>" % pn,
                            font=dict(size=31, color="#000", family=FONT)))

# bold peak labels
LBL = dict(size=20, color="#000", family=FONT)
ch2_pos = {"A": (70, 59), "B": (592, 73), "C": (70, 601), "D": (590, 600)}
co_pos = {"A": (352, 65), "B": (873, 73), "C": (357, 585), "D": (873, 590)}
nh_pos = {"A": (70, 167), "B": (592, 163), "C": (72, 705), "D": (592, 706)}
for pn in panel_names:
    for pos, txt in ((ch2_pos[pn], "<b>2944 cm<sup>-1</sup> : CH<sub>2</sub></b>"),
                     (co_pos[pn], "<b>1722 cm<sup>-1</sup> : C=O</b>"),
                     (nh_pos[pn], "<b>3286 cm<sup>-1</sup> : NH-, OH-</b>")):
        annotations.append(dict(xref="paper", yref="paper", x=fx(pos[0]), y=fy(pos[1]), xanchor="left",
                                yanchor="middle", showarrow=False, text=txt, font=LBL))


def seg(xa, ya, xb, yb, w=1.6):
    shapes.append(dict(type="line", xref="paper", yref="paper", x0=fx(xa), y0=fy(ya), x1=fx(xb), y1=fy(yb),
                       line=dict(color="#000", width=w)))


def arrow(xa, ya, xb, yb, L=10, ang=32):
    seg(xa, ya, xb, yb)
    dx, dy = xb - xa, yb - ya
    n = math.hypot(dx, dy)
    ux, uy = dx / n, dy / n
    for s in (1, -1):
        a = math.radians(ang) * s
        rx = ux * math.cos(a) - uy * math.sin(a)
        ry = ux * math.sin(a) + uy * math.cos(a)
        seg(xb, yb, xb - L * rx, yb - L * ry)


ch2_arrow = {"A": (160, 75, 194, 92), "B": (683, 77, 714, 95), "C": (160, 605, 193, 621), "D": (678, 605, 712, 621)}
co_arrow = {"A": (387, 76, 89, 350), "B": (908, 77, 90, 873), "C": (389, 597, 609, 355), "D": (907, 598, 612, 873)}
nh_arrow = {"A": (154, 187, 154, 200), "B": (667, 192, 667, 208), "C": (154, 732, 154, 745), "D": (667, 732, 667, 747)}
for pn in panel_names:
    arrow(*ch2_arrow[pn])
    vx, vy0, vy1, tipx = co_arrow[pn]
    seg(vx, vy0, vx, vy1)
    arrow(vx, vy1, tipx, vy1)
    arrow(*nh_arrow[pn])

layout["annotations"] = annotations
layout["shapes"] = shapes
fig.update_layout(**layout)
# remove the default 8px page margin so the 1042x1050 figure fills the window exactly; hide the mode bar
fig.write_html("out.html", config={"displayModeBar": False},
               post_script="document.body.style.margin='0px';")
